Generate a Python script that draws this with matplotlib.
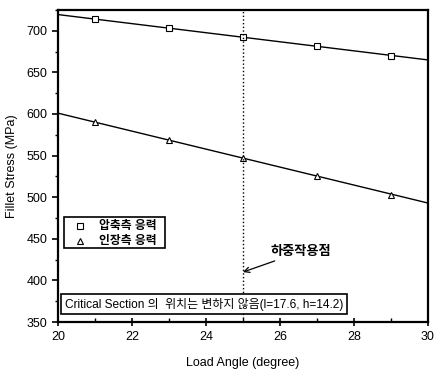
import matplotlib
matplotlib.use('Agg')
import matplotlib.pyplot as plt
from matplotlib.ticker import MultipleLocator

plt.rcParams['font.family'] = ['Liberation Sans', 'Noto Sans CJK KR']

# load angle (degree)
angle = [21, 23, 25, 27, 29]
# compressive side stress (MPa)
comp_stress = [714.5, 703.5, 693, 682, 669.5]
# tensile side stress (MPa)
tens_stress = [590.5, 569, 547, 525.5, 502.5]

# fitted line end points
fit_x = [20, 30]
comp_fit = [719.5, 665]
tens_fit = [601, 493]

load_point = 25

fig = plt.figure(figsize=(4.38, 3.7), dpi=100)
ax = fig.add_axes([0.1324, 0.1297, 0.8446, 0.8433])

ax.plot(fit_x, comp_fit, color='black', lw=1.0)
ax.plot(fit_x, tens_fit, color='black', lw=1.0)
ax.plot(angle, comp_stress, ls='none', marker='s', ms=4, mfc='white',
        mec='black', mew=0.8)
ax.plot(angle, tens_stress, ls='none', marker='^', ms=4.5, mfc='white',
        mec='black', mew=0.8)
ax.axvline(load_point, color='black', ls=':', lw=1.0)

ax.set_xlim(20, 30)
ax.set_ylim(350, 725)
ax.xaxis.set_major_locator(MultipleLocator(2))
ax.xaxis.set_minor_locator(MultipleLocator(1))
ax.yaxis.set_major_locator(MultipleLocator(50))
ax.yaxis.set_minor_locator(MultipleLocator(25))

ax.tick_params(axis='both', which='both', labelsize=9)
ax.tick_params(axis='y', which='major', direction='out', length=4, width=1.2)
ax.tick_params(axis='y', which='minor', direction='out', length=2.5, width=1.0)
ax.tick_params(axis='x', which='major', direction='inout', length=6, width=1.2)
ax.tick_params(axis='x', which='minor', direction='in', length=3, width=1.0)
for sp in ax.spines.values():
    sp.set_linewidth(1.6)

ax.set_xlabel('Load Angle (degree)', fontsize=9, labelpad=10)
ax.set_ylabel('Fillet Stress (MPa)', fontsize=9, labelpad=6)

# legend box
ax.plot([20.6], [465], ls='none', marker='s', ms=4, mfc='white',
        mec='black', mew=0.8)
ax.plot([20.6], [447], ls='none', marker='^', ms=4.5, mfc='white',
        mec='black', mew=0.8)
ax.text(21.12, 465, '압축측 응력', fontsize=8.5, va='center', fontweight='bold')
ax.text(21.12, 447, '인장측 응력', fontsize=8.5, va='center', fontweight='bold')
ax.add_patch(plt.Rectangle((20.15, 439), 2.75, 37, fill=False,
                           ec='black', lw=1.2))

ax.text(20.18, 371.5, 'Critical Section 의  위치는 변하지 않음(l=17.6, h=14.2)',
        fontsize=8.6, va='center',
        bbox=dict(boxstyle='square,pad=0.3', fc='white', ec='black', lw=1.2))

ax.annotate('하중작용점', xy=(load_point, 410), xytext=(25.75, 434.5),
            fontsize=9.5, fontweight='bold', va='center',
            arrowprops=dict(arrowstyle='->', color='black', lw=0.9,
                            shrinkA=1, shrinkB=0))

fig.savefig('out.png', dpi=100)
